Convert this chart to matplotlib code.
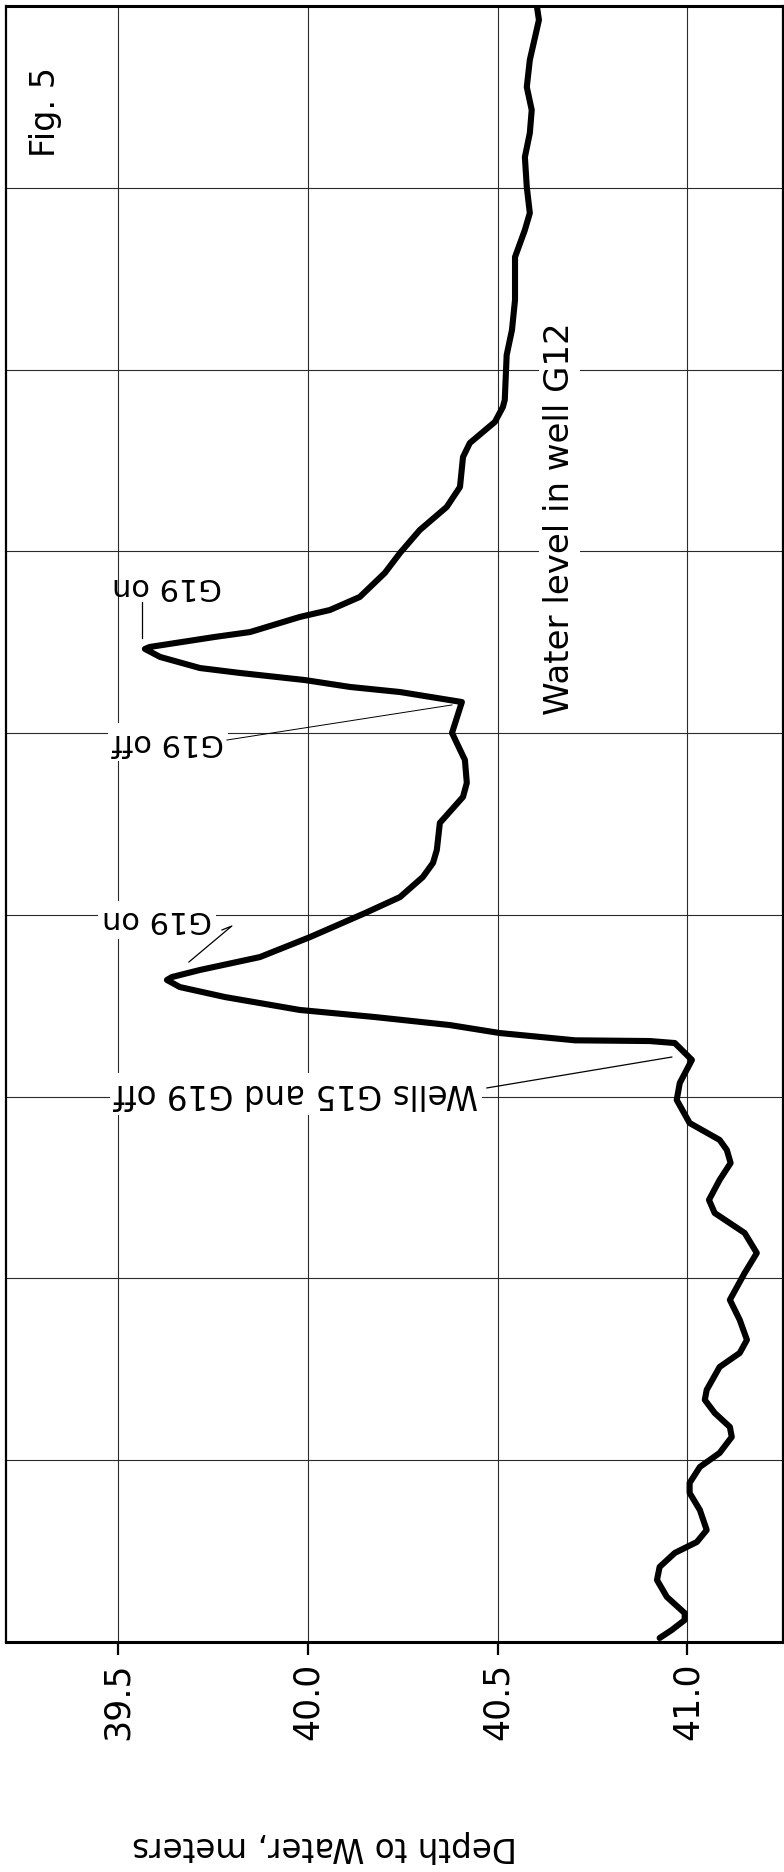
import matplotlib
matplotlib.use("Agg")
import matplotlib.pyplot as plt

# ---- data (depth to water in m, elapsed time in grid units; time runs downward) ----
depth = [40.604, 40.609, 40.585, 40.577, 40.590, 40.585, 40.572, 40.577, 40.585, 40.572,
         40.546, 40.546, 40.538, 40.524, 40.519, 40.514, 40.493, 40.427, 40.409, 40.401,
         40.366, 40.295, 40.243, 40.203, 40.137, 40.058, 39.979, 39.848, 39.755, 39.584,
         39.571, 39.611, 39.716, 39.821, 39.992, 40.111, 40.243, 40.406, 40.380, 40.414,
         40.419, 40.409, 40.348, 40.340, 40.330, 40.303, 40.243, 40.151, 40.006, 39.874,
         39.716, 39.642, 39.629, 39.663, 39.782, 39.979, 40.177, 40.374, 40.506, 40.704,
         40.901, 40.967, 41.012, 40.980, 40.972, 41.006, 41.085, 41.104, 41.114, 41.085,
         41.057, 41.072, 41.151, 41.183, 41.151, 41.112, 41.138, 41.157, 41.138, 41.085,
         41.051, 41.046, 41.072, 41.112, 41.117, 41.085, 41.033, 41.006, 41.006, 41.033,
         41.051, 41.025, 40.967, 40.927, 40.920, 40.946, 40.993, 40.993, 40.959, 40.927]
time = [0.006, 0.077, 0.297, 0.446, 0.572, 0.699, 0.831, 0.996, 1.139, 1.232,
        1.381, 1.617, 1.782, 1.920, 2.167, 2.206, 2.288, 2.404, 2.481, 2.646,
        2.756, 2.883, 3.009, 3.119, 3.251, 3.323, 3.361, 3.444, 3.471, 3.526,
        3.537, 3.581, 3.642, 3.669, 3.708, 3.746, 3.774, 3.829, 3.999, 4.148,
        4.274, 4.351, 4.494, 4.643, 4.714, 4.792, 4.902, 4.990, 5.122, 5.232,
        5.303, 5.342, 5.358, 5.397, 5.452, 5.523, 5.562, 5.606, 5.650, 5.690,
        5.694, 5.705, 5.798, 5.925, 6.018, 6.145, 6.238, 6.293, 6.365, 6.458,
        6.568, 6.640, 6.750, 6.860, 6.970, 7.118, 7.228, 7.338, 7.410, 7.487,
        7.613, 7.668, 7.740, 7.817, 7.872, 7.960, 8.037, 8.125, 8.180, 8.274,
        8.384, 8.450, 8.510, 8.587, 8.659, 8.752, 8.841, 8.879, 8.934, 8.978]

depth_ticks = [39.5, 40.0, 40.5, 41.0]
depth_tick_labels = ["39.5", "40.0", "40.5", "41.0"]
time_grid = [1, 2, 3, 4, 5, 6, 7, 8]

FONT = "DejaVu Sans"
plt.rcParams["font.family"] = [FONT]

fig = plt.figure(figsize=(7.84, 18.72), dpi=100)
W, H = 784, 1872
left_px, right_px, top_px, bot_px = 6, 783, 6, 1642
ax = fig.add_axes([left_px / W, 1 - bot_px / H, (right_px - left_px) / W, (bot_px - top_px) / H])

ax.set_xlim(39.205, 41.252)
ax.set_ylim(9, 0)

# grid
for d in depth_ticks:
    ax.axvline(d, color="#2a2a2a", lw=0.8, zorder=1)
for t in time_grid:
    ax.axhline(t, color="#2a2a2a", lw=0.8, zorder=1)

# curve
ax.plot(depth, time, color="black", lw=4.4, solid_joinstyle="round",
        solid_capstyle="round", zorder=4)

# spines
for s in ["top", "bottom"]:
    ax.spines[s].set_linewidth(2.2)
ax.spines["left"].set_linewidth(1.6)
ax.spines["right"].set_linewidth(1.6)

ax.set_xticks(depth_ticks)
ax.set_xticklabels(depth_tick_labels, rotation=90, fontsize=25, va="top", ha="center")
ax.tick_params(axis="x", direction="out", length=9, width=1.6, pad=6)
ax.set_yticks([])

wbox = dict(facecolor="white", edgecolor="none", pad=3)

# labels on plot
ax.text(39.310, 0.583, "Fig. 5", rotation=90, fontsize=24, ha="center", va="center",
        rotation_mode="anchor", zorder=3)
ax.text(40.664, 2.822, "Water level in well G12", rotation=90, fontsize=24.5,
        ha="center", va="center", rotation_mode="anchor", bbox=wbox, zorder=3)

# annotations (upside down as in the original)
ax.text(39.629, 3.196, "G19 on", rotation=180, fontsize=22, ha="center", va="center",
        rotation_mode="anchor", zorder=3)
ax.plot([39.563, 39.563], [3.279, 3.477], color="black", lw=0.9, zorder=3)

ax.text(39.632, 4.049, "G19 off", rotation=180, fontsize=22, ha="center", va="center",
        rotation_mode="anchor", bbox=wbox, zorder=3)
ax.plot([39.787, 40.380], [4.038, 3.845], color="black", lw=0.7, zorder=3)

ax.text(39.603, 5.028, "G19 on", rotation=180, fontsize=22, ha="center", va="center",
        rotation_mode="anchor", bbox=wbox, zorder=3)
ax.plot([39.774, 39.800, 39.687], [5.083, 5.061, 5.259], color="black", lw=0.9, zorder=3)

ax.text(39.969, 5.985, "Wells G15 and G19 off", rotation=180, fontsize=23.5, ha="center",
        va="center", rotation_mode="anchor", bbox=wbox, zorder=3)
ax.plot([40.472, 40.959], [5.952, 5.782], color="black", lw=0.9, zorder=3)

# axis title (upside down)
fig.text(325 / W, 1 - 1847 / H, "Depth to Water, meters", rotation=180, fontsize=23.5,
         ha="center", va="center", rotation_mode="anchor")

fig.savefig("out.png", dpi=100, facecolor="white")
